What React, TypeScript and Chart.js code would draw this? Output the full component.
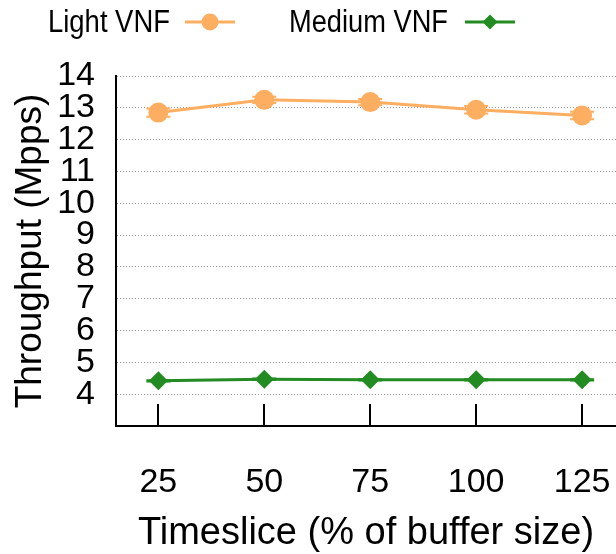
import React, { useEffect, useRef } from 'react';
import { Chart, registerables } from 'chart.js';

Chart.register(...registerables);

const timeslices = [25, 50, 75, 100, 125];
const lightVnf = [12.85, 13.25, 13.18, 12.94, 12.76];
const lightVnfErr = [0.13, 0.1, 0.1, 0.12, 0.12];
const mediumVnf = [4.42, 4.47, 4.45, 4.45, 4.45];
const mediumVnfErr = [0.02, 0.02, 0.02, 0.02, 0.02];
const yTickValues = [4, 5, 6, 7, 8, 9, 10, 11, 12, 13, 14];
const seriesNames = ['Light VNF', 'Medium VNF'];
const xTitle = 'Timeslice (% of buffer size)';
const yTitle = 'Throughput (Mpps)';

const ORANGE = '#fdae61';
const GREEN = '#228b22';
const FONT = '"Liberation Sans", Arial, Helvetica, sans-serif';

const errorBarPlugin = {
  id: 'errorBars',
  beforeDatasetsDraw(chart: any) {
    const ctx = chart.ctx;
    const yScale = chart.scales.y;
    chart.data.datasets.forEach((ds: any, i: number) => {
      const meta = chart.getDatasetMeta(i);
      const errs: number[] = ds.errors || [];
      meta.data.forEach((pt: any, j: number) => {
        const v = ds.data[j].y;
        const e = errs[j] || 0;
        const yTop = yScale.getPixelForValue(v + e);
        const yBot = yScale.getPixelForValue(v - e);
        ctx.save();
        ctx.strokeStyle = ds.borderColor;
        ctx.lineWidth = 2;
        ctx.beginPath();
        ctx.moveTo(pt.x, yTop);
        ctx.lineTo(pt.x, yBot);
        ctx.moveTo(pt.x - 12, yTop);
        ctx.lineTo(pt.x + 12, yTop);
        ctx.moveTo(pt.x - 12, yBot);
        ctx.lineTo(pt.x + 12, yBot);
        ctx.stroke();
        ctx.restore();
      });
    });
  },
};

const xInwardTicksPlugin = {
  id: 'xInwardTicks',
  afterDraw(chart: any) {
    const ctx = chart.ctx;
    const xScale = chart.scales.x;
    const bottom = chart.chartArea.bottom;
    ctx.save();
    ctx.strokeStyle = '#000';
    ctx.lineWidth = 2;
    timeslices.forEach((t) => {
      const x = Math.round(xScale.getPixelForValue(t));
      ctx.beginPath();
      ctx.moveTo(x, bottom);
      ctx.lineTo(x, bottom - 22);
      ctx.stroke();
    });
    ctx.restore();
  },
};

const legendPlugin = {
  id: 'customLegend',
  afterDraw(chart: any) {
    const ctx = chart.ctx;
    const items = [
      { text: seriesNames[0], textRight: 170, maxW: 122, x0: 185, x1: 235, color: ORANGE, shape: 'circle' },
      { text: seriesNames[1], textRight: 448, maxW: 159, x0: 465, x1: 515, color: GREEN, shape: 'diamond' },
    ];
    const y = 22;
    ctx.save();
    ctx.font = `31px ${FONT}`;
    ctx.textAlign = 'right';
    ctx.textBaseline = 'middle';
    items.forEach((it) => {
      ctx.fillStyle = '#000';
      ctx.fillText(it.text, it.textRight, y + 1, it.maxW);
      ctx.strokeStyle = it.color;
      ctx.lineWidth = 3;
      ctx.beginPath();
      ctx.moveTo(it.x0, y);
      ctx.lineTo(it.x1, y);
      ctx.stroke();
      const cx = (it.x0 + it.x1) / 2;
      ctx.fillStyle = it.color;
      ctx.beginPath();
      if (it.shape === 'circle') {
        ctx.arc(cx, y, 8.5, 0, Math.PI * 2);
      } else {
        ctx.moveTo(cx - 7.5, y);
        ctx.lineTo(cx, y - 7.5);
        ctx.lineTo(cx + 7.5, y);
        ctx.lineTo(cx, y + 7.5);
        ctx.closePath();
      }
      ctx.fill();
    });
    ctx.restore();
  },
};

export default function App() {
  const canvasRef = useRef<HTMLCanvasElement | null>(null);

  useEffect(() => {
    if (!canvasRef.current) return;
    const chart = new Chart(canvasRef.current, {
      type: 'line',
      data: {
        datasets: [
          {
            label: seriesNames[0],
            data: timeslices.map((t, i) => ({ x: t, y: lightVnf[i] })),
            errors: lightVnfErr,
            borderColor: ORANGE,
            backgroundColor: ORANGE,
            borderWidth: 3,
            pointStyle: 'circle',
            pointRadius: 10,
            pointBorderWidth: 0,
            tension: 0,
          } as any,
          {
            label: seriesNames[1],
            data: timeslices.map((t, i) => ({ x: t, y: mediumVnf[i] })),
            errors: mediumVnfErr,
            borderColor: GREEN,
            backgroundColor: GREEN,
            borderWidth: 3,
            pointStyle: 'rectRot',
            pointRadius: 9.5,
            pointBorderWidth: 0,
            tension: 0,
          } as any,
        ],
      },
      options: {
        animation: false,
        responsive: false,
        maintainAspectRatio: false,
        devicePixelRatio: 1,
        layout: { autoPadding: false, padding: { top: 76, left: 0, right: 0, bottom: 0 } },
        plugins: {
          legend: { display: false },
          tooltip: { enabled: false },
        },
        scales: {
          x: {
            type: 'linear',
            min: 15,
            max: 133,
            afterBuildTicks(scale: any) {
              scale.ticks = timeslices.map((v) => ({ value: v }));
            },
            afterFit(scale: any) {
              scale.height = 128;
              scale.paddingLeft = 0;
              scale.paddingRight = 0;
            },
            grid: { display: false, drawTicks: false },
            border: { display: true, color: '#000', width: 2 },
            ticks: {
              color: '#000',
              font: { family: FONT, size: 34 },
              padding: 36,
              maxRotation: 0,
              autoSkip: false,
            },
            title: {
              display: true,
              text: xTitle,
              color: '#000',
              font: { family: FONT, size: 38, lineHeight: 1.0 },
              padding: { top: 0, bottom: 1 },
            },
          },
          y: {
            type: 'linear',
            min: 3,
            max: 14,
            afterBuildTicks(scale: any) {
              scale.ticks = [3, ...yTickValues].map((v) => ({ value: v }));
            },
            afterFit(scale: any) {
              scale.width = 116;
              scale.paddingTop = 0;
              scale.paddingBottom = 0;
            },
            grid: {
              drawTicks: false,
              lineWidth: 1,
              color: (c: any) => (c.tick && c.tick.value === 3 ? 'rgba(0,0,0,0)' : '#9a9a9a'),
            },
            border: { display: true, color: '#000', width: 2, dash: [1, 2] },
            ticks: {
              color: '#000',
              font: { family: FONT, size: 34 },
              padding: 21,
              autoSkip: false,
              callback: (v: any) => (v === 3 ? '' : String(v)),
            },
            title: {
              display: true,
              text: yTitle,
              color: '#000',
              font: { family: FONT, size: 37, lineHeight: 1.2 },
              padding: { top: 9, bottom: 0 },
            },
          },
        },
      },
      plugins: [errorBarPlugin, xInwardTicksPlugin, legendPlugin],
    } as any);
    return () => chart.destroy();
  }, []);

  return (
    <div style={{ position: 'absolute', left: 0, top: 0, width: 616, height: 554, background: '#fff' }}>
      <canvas ref={canvasRef} width={616} height={554} style={{ display: 'block' }} />
    </div>
  );
}
